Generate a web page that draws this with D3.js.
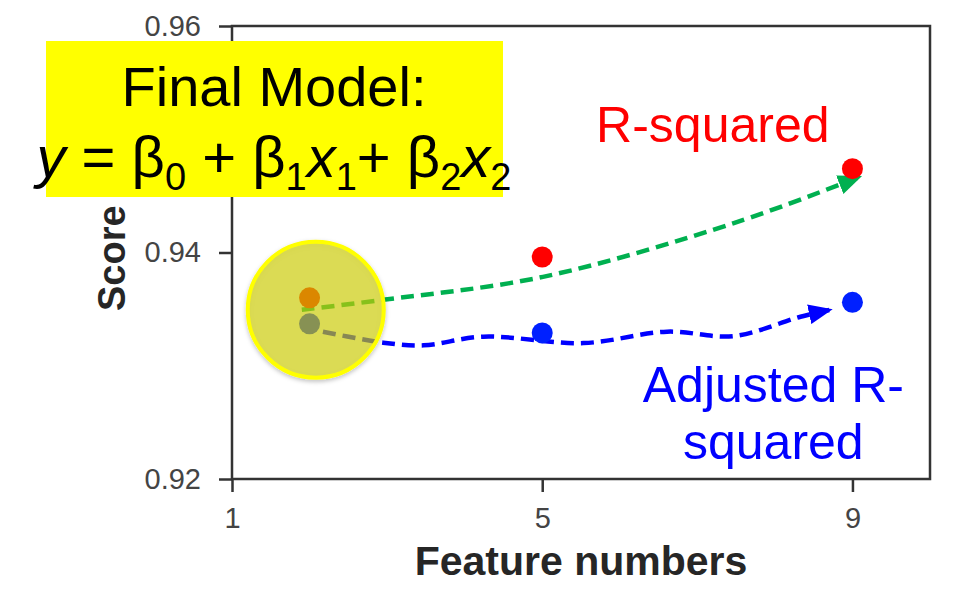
<!DOCTYPE html>
<html>
<head>
<meta charset="utf-8">
<script src="https://cdn.jsdelivr.net/npm/d3@7"></script>
<style>
  body { margin: 0; background: #fff; }
  svg { display: block; font-family: "Liberation Sans", Arial, Helvetica, sans-serif; }
</style>
</head>
<body>
<svg id="chart" width="956" height="598"></svg>
<script>
// data
const featureNumbers = [2, 5, 9]
const rSquared = [0.9360, 0.9396, 0.9474]
const adjRSquared = [0.9337, 0.9329, 0.9356]
const xTicks = [1, 5, 9]
const yTicks = [0.92, 0.94, 0.96]

// hand drawn arrows in data units (feature, score)
const greenArrow = [[1.90, 0.93494], [2.95, 0.93582], [5.01, 0.93785], [7.47, 0.94259], [9.10, 0.94670]]
const blueArrow = [[1.92, 0.93336], [2.95, 0.93204], [3.47, 0.93180], [4.24, 0.93257], [5.53, 0.93200],
  [6.61, 0.93301], [7.47, 0.93262], [8.33, 0.93433], [8.72, 0.93495]]
const highlight = { feature: 2.08, score: 0.93495 }

const svg = d3.select('#chart')
const margin = { top: 26, right: 26, bottom: 119, left: 232 }
const width = 956 - margin.left - margin.right
const height = 598 - margin.top - margin.bottom

const x = d3.scaleLinear().domain([1, 10]).range([0, width])
const y = d3.scaleLinear().domain([0.92, 0.96]).range([height, 0])

const defs = svg.append('defs')
function arrowHead(id, color) {
  defs.append('marker')
    .attr('id', id)
    .attr('markerUnits', 'userSpaceOnUse')
    .attr('viewBox', '0 0 24 20')
    .attr('refX', 22).attr('refY', 10)
    .attr('markerWidth', 24).attr('markerHeight', 20)
    .attr('orient', 'auto')
    .append('path')
    .attr('d', 'M0,0 L24,10 L0,20 Z')
    .attr('fill', color)
}
arrowHead('head-green', '#00b050')
arrowHead('head-blue', '#0000ff')
defs.append('filter').attr('id', 'shadow')
  .attr('x', '-20%').attr('y', '-20%').attr('width', '140%').attr('height', '140%')
  .append('feDropShadow')
  .attr('dx', 0).attr('dy', 2).attr('stdDeviation', 2)
  .attr('flood-color', '#000').attr('flood-opacity', 0.25)

const g = svg.append('g').attr('transform', `translate(${margin.left},${margin.top})`)

// axes
const xAxis = g.append('g')
  .attr('transform', `translate(0,${height})`)
  .call(d3.axisBottom(x).tickValues(xTicks).tickSize(13).tickPadding(15).tickFormat(d3.format('d')))
const yAxis = g.append('g')
  .call(d3.axisLeft(y).tickValues(yTicks).tickSize(13).tickPadding(18).tickFormat(d3.format('.2f')))
;[xAxis, yAxis].forEach(a => {
  a.select('.domain').remove()
  a.selectAll('.tick line').attr('stroke', '#333').attr('stroke-width', 2.5)
  a.selectAll('.tick text').attr('fill', '#444').style('font-size', '29px').style('font-family', 'inherit')
})

// frame
g.append('rect')
  .attr('width', width).attr('height', height)
  .attr('fill', 'none').attr('stroke', '#333').attr('stroke-width', 2.5)

// axis titles
g.append('text')
  .attr('x', x(5.5)).attr('y', height + 96)
  .attr('text-anchor', 'middle')
  .attr('fill', '#262626').attr('font-weight', 'bold').attr('font-size', 41)
  .text('Feature numbers')
g.append('text')
  .attr('transform', `translate(${-107},${y(0.9395)}) rotate(-90)`)
  .attr('text-anchor', 'middle')
  .attr('fill', '#262626').attr('font-weight', 'bold').attr('font-size', 38)
  .text('Score')

// arrows
const curve = d3.line().x(d => x(d[0])).y(d => y(d[1])).curve(d3.curveCatmullRom.alpha(0.5))
g.append('path')
  .attr('d', curve(greenArrow))
  .attr('fill', 'none').attr('stroke', '#00b050').attr('stroke-width', 4.5)
  .attr('stroke-dasharray', '13,7')
  .attr('marker-end', 'url(#head-green)')
g.append('path')
  .attr('d', curve(blueArrow))
  .attr('fill', 'none').attr('stroke', '#0000ff').attr('stroke-width', 4.5)
  .attr('stroke-dasharray', '13,7')
  .attr('marker-end', 'url(#head-blue)')

// points
g.selectAll('.r2')
  .data(featureNumbers.map((f, i) => [f, rSquared[i]]))
  .join('circle')
  .attr('class', 'r2')
  .attr('cx', d => x(d[0])).attr('cy', d => y(d[1])).attr('r', 10.5)
  .attr('fill', '#ff0000')
g.selectAll('.adj')
  .data(featureNumbers.map((f, i) => [f, adjRSquared[i]]))
  .join('circle')
  .attr('class', 'adj')
  .attr('cx', d => x(d[0])).attr('cy', d => y(d[1])).attr('r', 10.5)
  .attr('fill', '#0020ff')

// highlight circle over the 2-feature model
g.append('circle')
  .attr('cx', x(highlight.feature)).attr('cy', y(highlight.score)).attr('r', 68)
  .attr('fill', 'rgb(210,210,0)').attr('fill-opacity', 0.61)
  .attr('stroke', '#ffff00').attr('stroke-width', 4)
  .attr('filter', 'url(#shadow)')

// series labels
g.append('text')
  .attr('x', x(7.2)).attr('y', y(0.9498))
  .attr('text-anchor', 'middle').attr('fill', '#ff0000').attr('font-size', 50)
  .text('R-squared')
const adjLabel = g.append('text')
  .attr('text-anchor', 'middle').attr('fill', '#0000ff').attr('font-size', 50)
adjLabel.append('tspan').attr('x', x(7.98)).attr('y', y(0.9268)).text('Adjusted R-')
adjLabel.append('tspan').attr('x', x(7.98)).attr('y', y(0.9218)).text('squared')

// final model box
svg.append('rect')
  .attr('x', 46).attr('y', 41).attr('width', 457).attr('height', 156)
  .attr('fill', '#ffff00')
svg.append('text')
  .attr('x', 274).attr('y', 106)
  .attr('text-anchor', 'middle').attr('font-size', 56).attr('fill', '#000')
  .text('Final Model:')
const eq = svg.append('text')
  .attr('x', 274).attr('y', 177)
  .attr('text-anchor', 'middle').attr('font-size', 58).attr('fill', '#000')
const parts = [
  ['y', 'i'], [' = β', ''], ['0', 's'], [' + β', ''], ['1', 's'], ['x', 'i'], ['1', 's'],
  ['+ β', ''], ['2', 's'], ['x', 'i'], ['2', 's']
]
let low = false
parts.forEach(([t, kind]) => {
  const ts = eq.append('tspan').text(t)
  if (kind === 'i') ts.attr('font-style', 'italic')
  if (kind === 's') {
    ts.attr('font-size', 38)
    if (!low) { ts.attr('dy', 13); low = true }
  } else if (low) {
    ts.attr('dy', -13); low = false
  }
})
</script>
</body>
</html>
